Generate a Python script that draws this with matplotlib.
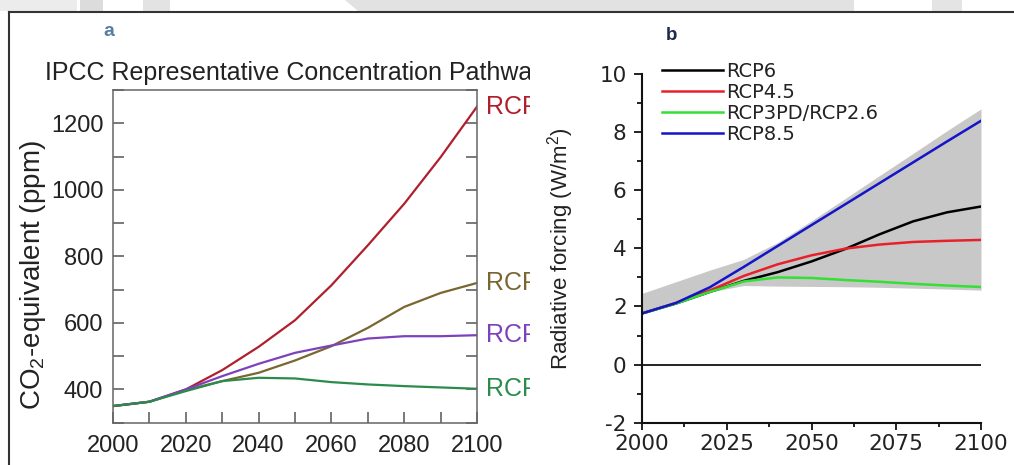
import matplotlib
matplotlib.use("Agg")
import matplotlib.pyplot as plt
from matplotlib.patches import Rectangle, Polygon
from matplotlib.lines import Line2D
from matplotlib.transforms import Bbox, TransformedBbox, blended_transform_factory
from matplotlib.ticker import MultipleLocator

plt.rcParams['font.family'] = ['Liberation Sans', 'DejaVu Sans']
plt.rcParams['mathtext.fontset'] = 'custom'
plt.rcParams['mathtext.rm'] = 'Liberation Sans'
plt.rcParams['mathtext.it'] = 'Liberation Sans:italic'
plt.rcParams['axes.unicode_minus'] = False

# panel a: CO2-equivalent concentration (ppm)
years_a = [2000, 2010, 2020, 2030, 2040, 2050, 2060, 2070, 2080, 2090, 2100]
rcp85_a = [350, 363, 400, 458, 528, 608, 713, 833, 958, 1098, 1250]
rcp60_a = [350, 363, 398, 425, 450, 487, 530, 585, 648, 690, 720]
rcp45_a = [350, 363, 400, 440, 477, 510, 532, 553, 560, 560, 563]
rcp26_a = [350, 363, 395, 425, 435, 433, 422, 415, 410, 406, 402]
labels_a = ['RCP8.5', 'RCP6', 'RCP4.5', 'RCP2.6']
colors_a = ['#b01f2c', '#7a6630', '#7d42bb', '#2b8b4b']

# panel b: radiative forcing (W/m2)
years_b = [2000, 2010, 2020, 2030, 2040, 2050, 2060, 2070, 2080, 2090, 2100]
rcp6_b = [1.76, 2.1, 2.5, 2.88, 3.18, 3.55, 3.98, 4.48, 4.93, 5.24, 5.44]
rcp45_b = [1.76, 2.12, 2.55, 3.05, 3.45, 3.76, 3.99, 4.13, 4.22, 4.26, 4.29]
rcp26_b = [1.76, 2.1, 2.5, 2.86, 3.0, 2.98, 2.91, 2.85, 2.78, 2.72, 2.67]
rcp85_b = [1.76, 2.12, 2.66, 3.36, 4.08, 4.8, 5.52, 6.24, 6.96, 7.68, 8.39]
band_hi = [2.45, 2.85, 3.25, 3.62, 4.2, 4.95, 5.72, 6.5, 7.27, 8.05, 8.8]
band_lo = [1.76, 2.1, 2.5, 2.72, 2.7, 2.69, 2.68, 2.66, 2.63, 2.6, 2.56]
labels_b = ['RCP6', 'RCP4.5', 'RCP3PD/RCP2.6', 'RCP8.5']
colors_b = ['#000000', '#e8202a', '#33e033', '#1414c8']

W, H = 1014, 465
fig = plt.figure(figsize=(W / 100, H / 100), dpi=100)
fig.patch.set_facecolor('white')

# faint page background at the top + frame
for x0, x1, c in [(0, 77, '#ececec'), (80, 103, '#dcdcdc'), (143, 170, '#e3e3e3'),
                  (932, 962, '#e4e4e4')]:
    fig.add_artist(Rectangle((x0 / W, 1 - 11 / H), (x1 - x0) / W, 11 / H,
                             transform=fig.transFigure, color=c, lw=0, zorder=0))
fig.add_artist(Polygon([(345 / W, 1), (854 / W, 1), (854 / W, 1 - 11 / H), (358 / W, 1 - 11 / H)],
                       closed=True, transform=fig.transFigure, color='#e2e2e2', lw=0, zorder=0))
fig.add_artist(Line2D([9 / W, 1], [1 - 12 / H] * 2, transform=fig.transFigure, color='#333333', lw=1.5))
fig.add_artist(Line2D([9 / W] * 2, [0, 1 - 12 / H], transform=fig.transFigure, color='#333333', lw=1.5))

# the left picture is cut off at its right edge
clip = TransformedBbox(Bbox.from_extents(0, 0, 530 / W, 1), fig.transFigure)

# ---------------- panel a ----------------
ax = fig.add_axes([113 / W, 1 - 422.7 / H, 364 / W, 332.7 / H])
series_a = [rcp85_a, rcp60_a, rcp45_a, rcp26_a]
for vals, col in zip(series_a, colors_a):
    ax.plot(years_a, vals, color=col, lw=1.6)
ax.set_xlim(2000, 2100)
ax.set_ylim(300, 1300)
ax.xaxis.set_major_locator(MultipleLocator(20))
ax.xaxis.set_minor_locator(MultipleLocator(10))
ax.yaxis.set_major_locator(MultipleLocator(200))
ax.yaxis.set_minor_locator(MultipleLocator(100))
ax.tick_params(which='both', direction='in', length=8, width=1.1, color='#555555',
               left=True, right=True, top=False, bottom=True, labelsize=17, labelcolor='#222222')
ax.tick_params(axis='x', pad=9)
ax.tick_params(axis='y', pad=7)
for s in ax.spines.values():
    s.set_color('#666666')
    s.set_linewidth(1.1)

ax.set_ylabel('CO$_2$-equivalent (ppm)', fontsize=20, color='#222222')
ax.yaxis.label.set_va('center')
ax.yaxis.set_label_coords((33 - 113) / 364, 0.444)

# end-of-line tags, only "RCP" survives the crop
tr = blended_transform_factory(ax.transAxes, ax.transData)
for vals, lab, col in zip(series_a, labels_a, colors_a):
    t = ax.text(1 + 9.5 / 364, vals[-1], lab[:3], transform=tr, color=col, fontsize=18,
                va='center', ha='left', clip_on=True)
    t.set_clip_box(clip)

t = fig.text(45 / W, 1 - 80 / H, 'IPCC Representative Concentration Pathways', fontsize=18,
             color='#222222', va='baseline', ha='left', clip_on=True)
t.set_clip_box(clip)
fig.text(103 / W, 1 - 32 / H, 'a', fontsize=14, fontweight='bold', color='#5a7da6', va='center',
         family=['Liberation Sans Narrow', 'Liberation Sans'])

# ---------------- panel b ----------------
bx = fig.add_axes([642 / W, 1 - 422.7 / H, 339 / W, 348.7 / H])
bx.fill_between(years_b, band_lo, band_hi, color='#c8c8c8', lw=0)
bx.axhline(0, color='black', lw=1.2)
series_b = [rcp6_b, rcp45_b, rcp26_b, rcp85_b]
handles = []
for vals, lab, col in zip(series_b, labels_b, colors_b):
    ln, = bx.plot(years_b, vals, color=col, lw=1.8, label=lab)
    handles.append(ln)
bx.set_xlim(2000, 2100)
bx.set_ylim(-2, 10)
bx.set_xticks([2000, 2025, 2050, 2075, 2100])
bx.xaxis.set_minor_locator(MultipleLocator(12.5))
bx.yaxis.set_major_locator(MultipleLocator(2))
bx.yaxis.set_minor_locator(MultipleLocator(1))
for s in ['top', 'right']:
    bx.spines[s].set_visible(False)
for s in ['left', 'bottom']:
    bx.spines[s].set_linewidth(1.5)
    bx.spines[s].set_color('#111111')
bx.tick_params(which='both', direction='out', width=1.3, color='#111111',
               labelsize=15.5, labelcolor='#222222', labelfontfamily='DejaVu Sans')
bx.tick_params(axis='y', which='major', length=6, pad=5)
bx.tick_params(axis='y', which='minor', length=3.5)
bx.tick_params(axis='x', which='major', length=5, pad=3)
bx.tick_params(axis='x', which='minor', length=3)

bx.set_ylabel('Radiative forcing (W/m$^2$)', fontsize=16, color='#222222')
bx.yaxis.label.set_va('center')
bx.yaxis.set_label_coords((561 - 642) / 339, 0.50)

bx.legend(handles=handles, loc='upper left', bbox_to_anchor=((661.7 - 642) / 339, (422.7 - 62) / 348.7),
          frameon=False, borderpad=0, borderaxespad=0, handlelength=3.17, handletextpad=0.12,
          labelspacing=0.1, prop={'family': 'DejaVu Sans', 'size': 14}, labelcolor='#222222')

fig.text(666 / W, 1 - 35 / H, 'b', fontsize=13.5, fontweight='bold', color='#1b2a4e', va='center',
         family=['Liberation Sans Narrow', 'Liberation Sans'])

fig.savefig('out.png', dpi=100)
